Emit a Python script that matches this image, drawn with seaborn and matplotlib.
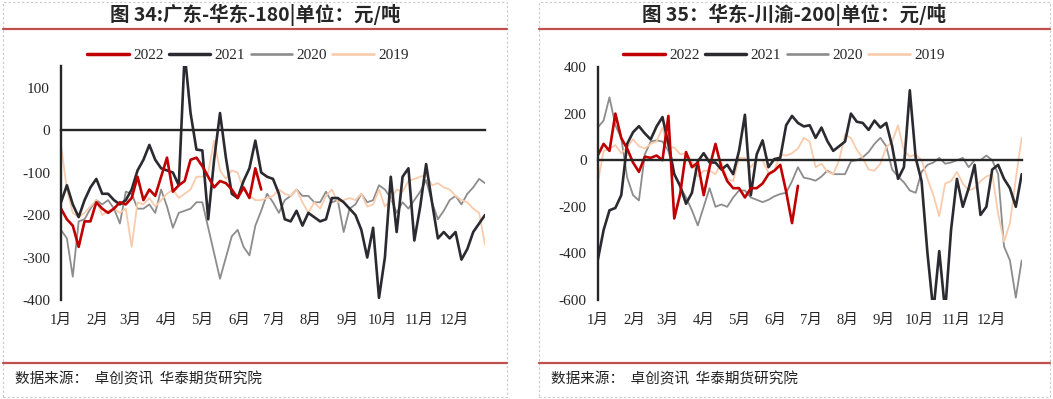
"""
Prix spreads régionaux du fioul - deux panneaux (图34 / 图35).
Valeurs relevées tous les 5 jours sur le graphique d'origine.
"""

import numpy as np
import pandas as pd
import matplotlib
matplotlib.use("Agg")
import matplotlib.pyplot as plt
from matplotlib.lines import Line2D
from matplotlib.patches import Rectangle
import matplotlib.dates as mdates
import seaborn as sns


# =====================================================================
# 0. DONNÉES
# =====================================================================

STEP_DAYS = 5
YEARS = ["2022", "2021", "2020", "2019"]
MONTH_LABELS = ["1月", "2月", "3月", "4月", "5月", "6月",
                "7月", "8月", "9月", "10月", "11月", "12月"]

# 图34 广东-华东-180
gd_2022 = [-185, -210, -225, -275, -215, -215, -170, -185, -195, -185,
           -170, -175, -160, -110, -165, -140, -155, -110, -65, -145,
           -130, -120, -70, -65, -85, -110, -135, -120, -125, -140,
           -160, -135, -160, -90, -140]
gd_2021 = [-170, -130, -175, -205, -165, -135, -115, -150, -150, -165,
           -175, -165, -140, -95, -70, -35, -70, -90, -95, -100,
           -130, 180, 40, -46, -48, -210, -70, 40, -65, -150,
           -160, -120, -90, -25, -100, -110, -115, -150, -210, -215,
           -190, -225, -195, -205, -215, -210, -160, -160, -170, -185,
           -200, -235, -300, -230, -395, -300, -110, -240, -110, -90,
           -260, -180, -80, -170, -255, -240, -255, -240, -305, -280,
           -240, -220, -200]
gd_2020 = [-235, -255, -345, -215, -210, -185, -165, -175, -165, -185,
           -220, -145, -150, -185, -185, -175, -195, -140, -180, -230,
           -195, -190, -185, -170, -170, -230, -290, -350, -300, -250,
           -235, -275, -295, -225, -190, -150, -170, -195, -165, -155,
           -140, -155, -155, -170, -170, -145, -170, -165, -240, -185,
           -175, -150, -170, -165, -130, -140, -160, -195, -170, -185,
           -165, -145, -118, -170, -210, -190, -165, -155, -175, -150,
           -135, -115, -125]
gd_2019 = [-35, -140, -195, -205, -195, -180, -165, -200, -190, -185,
           -195, -185, -275, -170, -175, -160, -180, -165, -150, -140,
           -160, -150, -140, -110, -110, -100, -25, -95, -115, -95,
           -100, -140, -155, -165, -165, -160, -155, -140, -150, -155,
           -140, -170, -195, -170, -185, -155, -140, -170, -165, -160,
           -165, -150, -180, -175, -140, -180, -165, -140, -145, -120,
           -115, -110, -105, -130, -125, -135, -140, -155, -165, -170,
           -185, -195, -270]

# 图35 华东-川渝-200
hd_2022 = [20, 70, 40, 200, 95, 50, -10, -50, 15, 10,
           20, 0, 190, -250, -145, 35, -30, -10, -150, -30,
           70, -30, -90, -120, -120, -160, -120, -120, -100, -60,
           -45, -20, -135, -270, -110]
hd_2021 = [-430, -300, -215, -205, -150, 70, 120, 146, 115, 89,
           145, 185, 70, -60, -110, -187, -140, -5, 30, -10,
           -10, -40, -20, -60, 40, 195, -150, 25, 85, -30,
           5, 10, 150, 190, 160, 145, 150, 96, 140, 82,
           40, 60, 80, 200, 165, 160, 130, 170, 140, 160,
           60, -80, -30, 300, 10, -90, -400, -650, -390, -650,
           -300, -80, -200, -120, -20, -235, -200, -40, -20, -80,
           -120, -200, -60]
hd_2020 = [140, 170, 270, 150, 95, -74, -150, -173, 25, 80,
           85, 80, 40, -60, -115, -160, -215, -280, -200, -120,
           -200, -190, -200, -160, -130, -130, -160, -170, -180, -170,
           -155, -145, -140, -90, -30, -75, -80, -88, -70, -45,
           -60, -60, -60, -5, 0, 12, 35, 70, 96, 60,
           -40, -70, -95, -130, -140, -50, -20, -10, 10, -15,
           -10, 0, 10, -30, 0, 0, 20, 0, -60, -370,
           -430, -590, -430]
hd_2019 = [-100, 40, 50, 65, 30, 55, 90, 60, 50, 70,
           80, 140, 50, 55, 25, 30, -5, -70, -45, -45,
           -60, -10, -80, -90, 10, 10, -30, 0, 0, -55,
           -45, 25, 20, 30, 50, 96, 80, -30, -15, -50,
           -60, 0, 110, 95, 45, 10, -40, -45, -15, 55,
           80, 150, 40, 15, 25, 0, -80, -150, -240, -100,
           -90, -50, -100, -130, -120, -90, -70, -60, -230, -350,
           -270, -80, 96]

PANELS = [
    {"title": "图 34:广东-华东-180|单位：元/吨",
     "series": dict(zip(YEARS, [gd_2022, gd_2021, gd_2020, gd_2019])),
     "ylim": (-400, 150), "yticks": [-400, -300, -200, -100, 0, 100]},
    {"title": "图 35：华东-川渝-200|单位：元/吨",
     "series": dict(zip(YEARS, [hd_2022, hd_2021, hd_2020, hd_2019])),
     "ylim": (-600, 400), "yticks": [-600, -400, -200, 0, 200, 400]},
]
SOURCE = "数据来源：  卓创资讯  华泰期货研究院"


# =====================================================================
# 1. STYLE
# =====================================================================

COLORS = {"2022": "#c00000", "2021": "#2a2a30", "2020": "#8c8c8c", "2019": "#f8cbad"}
WIDTHS = {"2022": 1.9, "2021": 1.9, "2020": 1.3, "2019": 1.3}
DRAW_ORDER = ["2020", "2019", "2021", "2022"]
CJK = ["Noto Sans CJK SC", "DejaVu Sans"]
SERIF = ["Liberation Serif", "Noto Sans CJK SC"]

W, H = 1053, 399

sns.set_style("white")
plt.rcParams["font.family"] = CJK
plt.rcParams["axes.unicode_minus"] = False


def to_frame(series):
    """Série dict -> DataFrame long (date, value, year)."""
    parts = []
    for year, vals in series.items():
        dates = pd.date_range("2022-01-01", periods=len(vals), freq=f"{STEP_DAYS}D")
        parts.append(pd.DataFrame({"date": dates, "value": vals, "year": year}))
    return pd.concat(parts, ignore_index=True)


def style_axes(ax, ylim, yticks):
    month_starts = mdates.date2num(pd.date_range("2022-01-01", periods=12, freq="MS"))
    ax.set_xlim(mdates.date2num(pd.Timestamp("2022-01-01")),
                mdates.date2num(pd.Timestamp("2022-12-27")))
    ax.set_ylim(*ylim)
    ax.set_yticks(yticks)
    ax.set_yticklabels([str(v) for v in yticks], family=SERIF, fontsize=11)
    ax.spines[["top", "right"]].set_visible(False)
    ax.spines["left"].set_linewidth(1.7)
    ax.spines["bottom"].set_position(("data", 0))
    ax.spines["bottom"].set_linewidth(1.7)
    ax.set_xticks(month_starts)
    ax.tick_params(axis="x", direction="out", length=4, width=1.4,
                   labelbottom=False, color="black")
    ax.tick_params(axis="y", direction="out", length=5, width=1.4,
                   pad=3, color="black")
    sec = ax.secondary_xaxis("bottom")
    sec.set_xticks(month_starts, labels=MONTH_LABELS)
    for lab in sec.get_xticklabels():
        lab.set_family(SERIF)
        lab.set_fontsize(10.5)
    sec.tick_params(length=0, pad=10)
    sec.spines["bottom"].set_visible(False)
    ax.set_xlabel("")
    ax.set_ylabel("")
    ax.patch.set_alpha(0)


# =====================================================================
# 2. FIGURE
# =====================================================================

fig = plt.figure(figsize=(W / 100, H / 100), dpi=100)

boxes = [(3, 507), (539, 1050)]
axes_x = [(61, 485), (597.7, 1021.7)]

for panel, (bx0, bx1), (ax0, ax1) in zip(PANELS, boxes, axes_x):
    top_px = 67 if panel["ylim"][1] == 400 else 66.3
    ax = fig.add_axes([ax0 / W, (H - 300) / H, (ax1 - ax0) / W, (300 - top_px) / H])

    df = to_frame(panel["series"])
    for yr in DRAW_ORDER:
        sub = df[df["year"] == yr]
        sns.lineplot(data=sub, x="date", y="value", color=COLORS[yr],
                     linewidth=WIDTHS[yr], ax=ax, legend=False)
    style_axes(ax, panel["ylim"], panel["yticks"])

    # cadre pointillé
    fig.add_artist(Rectangle((bx0 / W, 2 / H), (bx1 - bx0) / W, (H - 4) / H,
                             transform=fig.transFigure, fill=False,
                             edgecolor="#c8c8c8", lw=0.8, linestyle=(0, (2, 2))))
    # traits rouges
    for ypx in (28.5, 362.7):
        fig.add_artist(Line2D([bx0 / W, bx1 / W], [1 - ypx / H, 1 - ypx / H],
                              transform=fig.transFigure, color="#c0504d", lw=1.6))

    cx = (bx0 + bx1) / 2
    fig.text(cx / W, 1 - 15 / H, panel["title"], ha="center", va="center",
             fontsize=14, fontweight="bold", family=CJK)
    fig.text((bx0 + 12) / W, 1 - 379 / H, SOURCE, ha="left", va="center",
             fontsize=10.5, color="#222222", family=CJK)

    handles = [Line2D([], [], color=COLORS[y], lw=WIDTHS[y] + 0.6) for y in YEARS]
    fig.legend(handles, YEARS, loc="center",
               bbox_to_anchor=((bx0 + 245) / W, 1 - 55 / H), ncol=4,
               frameon=False, handlelength=2.7, handletextpad=0.3,
               columnspacing=0.35, prop={"family": SERIF, "size": 11})

fig.savefig("out.png", dpi=100)
